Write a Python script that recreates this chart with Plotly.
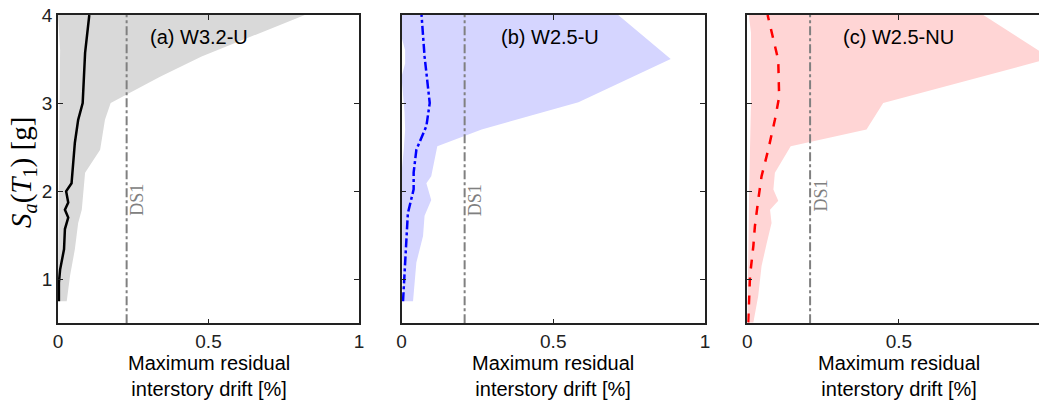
import plotly.graph_objects as go
from plotly.subplots import make_subplots

# panel (a) W3.2-U
a_med_y = [0.75, 0.96, 1.11, 1.34, 1.57, 1.70, 1.79, 1.87, 2.0, 2.09, 2.55, 2.81, 3.0, 3.57, 4.0]
a_med_x = [0.003, 0.003, 0.007, 0.02, 0.023, 0.034, 0.023, 0.034, 0.027, 0.045, 0.056, 0.067, 0.082, 0.09, 0.104]
a_hi_y = [0.75, 1.04, 1.34, 1.64, 1.79, 2.21, 2.47, 2.81, 3.0, 3.30, 3.53, 4.0]
a_hi_x = [0.029, 0.04, 0.056, 0.067, 0.079, 0.09, 0.14, 0.156, 0.175, 0.339, 0.477, 0.82]
a_lo_y = [4.0, 3.6, 3.0, 2.0, 1.0, 0.75]
a_lo_x = [0.0, 0.007, 0.005, 0.003, 0.0, 0.003]

# panel (b) W2.5-U
b_med_y = [0.75, 1.04, 1.41, 1.75, 2.02, 2.21, 2.47, 2.74, 3.0, 3.53, 4.0]
b_med_x = [0.005, 0.01, 0.016, 0.021, 0.04, 0.04, 0.049, 0.082, 0.093, 0.076, 0.066]
b_hi_y = [0.75, 1.19, 1.49, 1.72, 1.90, 2.09, 2.17, 2.51, 2.70, 3.01, 3.50, 4.0]
b_hi_x = [0.038, 0.049, 0.071, 0.076, 0.098, 0.082, 0.098, 0.118, 0.264, 0.583, 0.887, 0.714]
b_lo_y = [4.0, 3.75, 3.6, 3.45, 3.3, 2.9, 2.7, 2.5, 2.2, 0.75]
b_lo_x = [0.0, 0.0, 0.012, 0.012, 0.0, 0.01, 0.012, 0.008, 0.0, 0.005]

# panel (c) W2.5-NU
c_med_y = [0.51, 1.04, 1.38, 1.60, 1.90, 2.17, 2.47, 2.81, 3.07, 3.49, 4.0]
c_med_x = [0.003, 0.009, 0.02, 0.025, 0.036, 0.047, 0.069, 0.091, 0.105, 0.102, 0.067]
c_hi_y = [0.51, 0.81, 1.15, 1.41, 1.64, 1.79, 1.89, 2.02, 2.21, 2.51, 2.70, 3.0, 3.51, 4.0]
c_hi_x = [0.02, 0.036, 0.047, 0.064, 0.08, 0.075, 0.102, 0.086, 0.091, 0.143, 0.393, 0.448, 1.0, 0.778]
c_lo_y = [4.0, 3.8, 3.0, 2.0, 1.0, 0.51]
c_lo_x = [0.005, 0.012, 0.012, 0.006, 0.002, 0.0]

ds1 = [0.228, 0.208, 0.207]
titles = ["(a) W3.2-U", "(b) W2.5-U", "(c) W2.5-NU"]
x_ticks = [0, 0.5, 1]
y_ticks = [1, 2, 3, 4]

panels = [
    (a_med_x, a_med_y, a_hi_x, a_hi_y, a_lo_x, a_lo_y, "rgb(217,217,217)", "black", "solid"),
    (b_med_x, b_med_y, b_hi_x, b_hi_y, b_lo_x, b_lo_y, "rgb(213,213,255)", "rgb(0,0,255)", "dashdot"),
    (c_med_x, c_med_y, c_hi_x, c_hi_y, c_lo_x, c_lo_y, "rgb(255,213,213)", "rgb(255,0,0)", "dash"),
]

fig = make_subplots(rows=1, cols=3)

for i, (mx, my, hx, hy, lx, ly, fillc, linec, dash) in enumerate(panels):
    col = i + 1
    fig.add_trace(go.Scatter(x=hx + lx, y=hy + ly, fill="toself", fillcolor=fillc,
                             mode="none", showlegend=False), row=1, col=col)
    fig.add_trace(go.Scatter(x=[ds1[i], ds1[i]], y=[0.5, 4], mode="lines",
                             line=dict(color="rgb(128,128,128)", width=2, dash="dashdot"),
                             showlegend=False), row=1, col=col)
    fig.add_trace(go.Scatter(x=mx, y=my, mode="lines",
                             line=dict(color=linec, width=2.5, dash=dash),
                             showlegend=False), row=1, col=col)

# page has an 8px body margin, so work in page pixels and shift
OFF = 8
W, H = 1047 - OFF, 401 - OFF


def px(p):
    return (p - OFF) / W


def py(p):
    return 1 - (p - OFF) / H


doms = [[px(58), px(359)], [px(401.5), px(705)], [px(747.3), 1.0]]
xr = [[0, 1], [0, 1], [0, 0.988]]
ydom = [py(323.3), py(15)]
xt_centers = [px((58 + 359) / 2), px((401.5 + 705) / 2), px(747.3 + 151.7)]

for i in range(3):
    sfx = "" if i == 0 else str(i + 1)
    fig.layout["xaxis" + sfx].update(
        domain=doms[i], range=xr[i], tickvals=x_ticks, ticktext=["0", "0.5", "1"],
        automargin=False, ticklabeloverflow="allow",
        showgrid=False, zeroline=False, showline=True, linecolor="#222", linewidth=1.5,
        mirror="ticks", ticks="inside", ticklen=5, tickcolor="#222",
        tickfont=dict(family="Liberation Sans", size=19, color="#222"))
    fig.layout["yaxis" + sfx].update(
        domain=ydom, range=[0.5, 4], tickvals=y_ticks,
        showticklabels=(i == 0), automargin=False, ticklabeloverflow="allow",
        showgrid=False, zeroline=False, showline=True, linecolor="#222", linewidth=1.5,
        mirror=("ticks" if i < 2 else False), ticks="inside", ticklen=5, tickcolor="#222",
        tickfont=dict(family="Liberation Sans", size=19, color="#222"))
    xref = "x" + sfx
    yref = "y" + sfx
    fig.add_annotation(x=[0.47, 0.49, 0.5][i], y=3.75, xref=xref, yref=yref, text=titles[i],
                       xanchor="center", yanchor="middle", showarrow=False,
                       font=dict(family="Liberation Sans", size=20, color="black"))
    fig.add_annotation(x=[0.262, 0.243, 0.243][i], y=[1.9, 1.9, 1.95][i], xref=xref, yref=yref,
                       text="DS1", textangle=-90, showarrow=False,
                       xanchor="center", yanchor="middle",
                       font=dict(family="Liberation Serif", size=18, color="rgb(128,128,128)"))
    fig.add_annotation(x=xt_centers[i], y=py(376), xref="paper", yref="paper",
                       text="Maximum residual<br>interstory drift [%]", showarrow=False,
                       xanchor="center", yanchor="middle",
                       font=dict(family="Liberation Sans", size=20, color="black"))

fig.add_annotation(x=px(23), y=py(173), xref="paper", yref="paper",
                   text="<i>S</i><sub><i>a</i></sub>(<i>T</i><sub>1</sub>) [g]",
                   textangle=-90, showarrow=False, xanchor="center", yanchor="middle",
                   font=dict(family="Liberation Serif", size=29, color="black"))

fig.update_layout(width=W, height=H, margin=dict(l=0, r=0, t=0, b=0, autoexpand=False),
                  plot_bgcolor="white", paper_bgcolor="white")

fig.write_html("out.html")
